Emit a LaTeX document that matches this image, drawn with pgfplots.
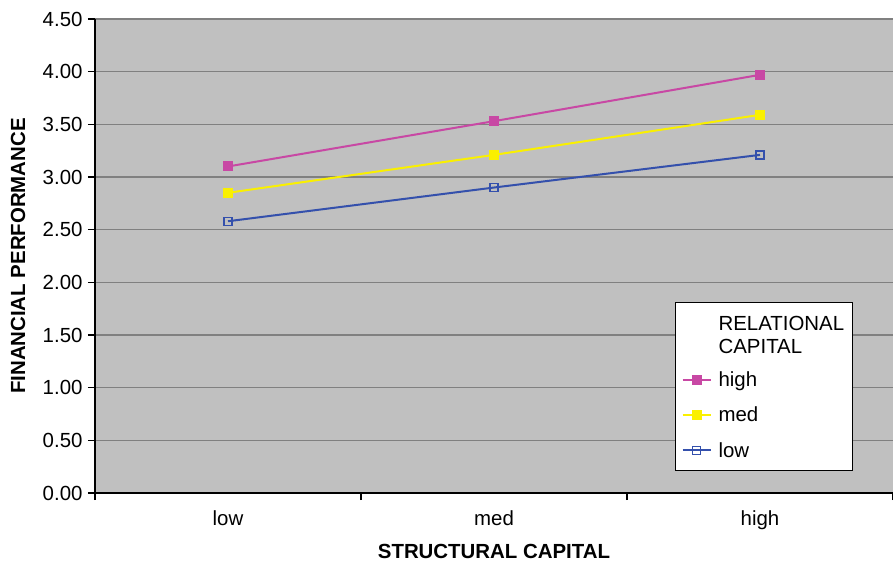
\documentclass[border=0pt]{standalone}
\usepackage{pgfplots}
\pgfplotsset{compat=1.18}
\usepackage{fontspec}
\setmainfont{Liberation Sans}
\definecolor{bgc}{RGB}{192,192,192}
\definecolor{gridc}{RGB}{128,128,128}
\definecolor{cHigh}{RGB}{200,72,164}
\definecolor{cMed}{RGB}{250,240,0}
\definecolor{cLow}{RGB}{52,80,172}
\begin{document}
\begin{tikzpicture}
\begin{axis}[
  scale only axis,
  width=798bp, height=474bp,
  xmin=-0.5, xmax=2.5, ymin=0, ymax=4.5,
  axis x line*=bottom, axis y line*=left,
  axis line style={black, line width=1.2bp, -},
  axis background/.style={fill=bgc},
  ymajorgrids, grid style={gridc, line width=1.3bp},
  ytick={0,0.5,...,4.5},
  xtick={0,1,2}, xticklabels={low,med,high},
  major x tick style={draw=none},
  minor xtick={-0.5,0.5,1.5,2.5},
  tick align=outside,
  major tick length=7bp, minor tick length=7bp,
  tick style={black, line width=1.2bp},
  /pgf/number format/assume math mode=true,
  y tick label style={/pgf/number format/fixed, /pgf/number format/fixed zerofill, /pgf/number format/precision=2, xshift=-2bp},
  ticklabel style={font=\fontsize{20.5}{24}\selectfont},
  x tick label style={yshift=-7bp},
  xlabel={\textbf{STRUCTURAL CAPITAL}},
  ylabel={\textbf{FINANCIAL PERFORMANCE}},
  every axis x label/.style={at={(axis description cs:0.5,-0.1224)}, anchor=center, font=\fontsize{20.5}{24}\selectfont},
  every axis y label/.style={at={(axis description cs:-0.0965,0.5)}, anchor=center, rotate=90, font=\fontsize{20.5}{24}\selectfont},
  legend style={at={(axis description cs:0.7268,0.4030)}, anchor=north west,
    draw=black, line width=1.2bp, fill=white, font=\fontsize{20.5}{23}\selectfont,
    inner xsep=6bp, inner ysep=10bp, row sep=15bp, cells={anchor=west},
    /tikz/every odd column/.append style={column sep=5bp}},
  legend image code/.code={\draw[mark repeat=2,mark phase=2,#1] plot coordinates {(0bp,0bp) (14bp,0bp) (28bp,0bp)};},
  clip=false,
]
\addlegendimage{empty legend}
\addlegendentry{\begin{tabular}{@{}l@{}}RELATIONAL\\CAPITAL\rule[-24bp]{0pt}{24bp}\end{tabular}}
\addplot[cHigh, line width=2bp, mark=square*, mark size=4bp, mark options={solid, fill=cHigh}]
  coordinates {(0,3.10) (1,3.53) (2,3.97)};
\addlegendentry{high}
\addplot[cMed, line width=2bp, mark=square*, mark size=4bp, mark options={solid, fill=cMed}]
  coordinates {(0,2.85) (1,3.21) (2,3.59)};
\addlegendentry{med}
\addplot[cLow, line width=2bp, mark=square, mark size=4bp, mark options={solid, line width=1.3bp}]
  coordinates {(0,2.58) (1,2.90) (2,3.21)};
\addlegendentry{low}
\coordinate (sw) at (rel axis cs:0,0);
\coordinate (ne) at (rel axis cs:1,1);
\end{axis}
\pgfresetboundingbox
\path[use as bounding box] ([shift={(-95bp,-72bp)}]sw) rectangle ([shift={(0bp,19bp)}]ne);
\end{tikzpicture}
\end{document}
